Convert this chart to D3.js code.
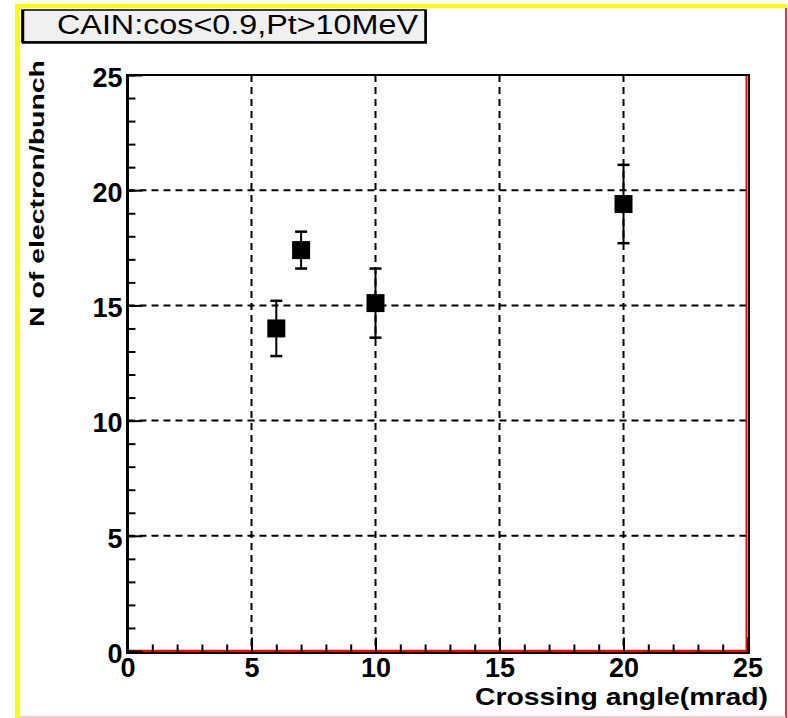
<!DOCTYPE html>
<html>
<head>
<meta charset="utf-8">
<script src="https://cdn.jsdelivr.net/npm/d3@7"></script>
<style>
  body { margin: 0; background: #fff; }
  svg { display: block; }
  .tick text { font-family: 'Liberation Sans', Arial, sans-serif; font-weight: bold; font-size: 27px; fill: #000; }
</style>
</head>
<body>
<svg id="chart" width="788" height="718"></svg>
<script>
// data
const angles = [6, 7, 10, 20]
const nElectrons = [14.0, 17.4, 15.1, 19.4]
const nErrors = [1.2, 0.8, 1.5, 1.7]
const majorTicks = [0, 5, 10, 15, 20, 25]
const minorTicks = d3.range(0, 26)
const titleText = 'CAIN:cos<0.9,Pt>10MeV'
const xTitle = 'Crossing angle(mrad)'
const yTitle = 'N of electron/bunch'

const svg = d3.select('#chart')
const font = "'Liberation Sans', Arial, sans-serif"

const padL = 127.5, padR = 747.5, padT = 75, padB = 651

const x = d3.scaleLinear().domain([0, 25]).range([padL, padR])
const y = d3.scaleLinear().domain([0, 25]).range([padB, padT])

// canvas border
svg.append('line').attr('x1', 15).attr('x2', 787).attr('y1', 6).attr('y2', 6)
  .attr('stroke', '#ffff00').attr('stroke-width', 4)
svg.append('line').attr('x1', 17.5).attr('x2', 17.5).attr('y1', 4).attr('y2', 718)
  .attr('stroke', '#ffff00').attr('stroke-width', 5)
svg.append('line').attr('x1', 786).attr('x2', 786).attr('y1', 8).attr('y2', 718)
  .attr('stroke', '#ff2a2a').attr('stroke-width', 2)
svg.append('line').attr('x1', 20).attr('x2', 786).attr('y1', 717).attr('y2', 717)
  .attr('stroke', '#ffb0b0').attr('stroke-width', 1.5)

// frame
svg.append('rect')
  .attr('x', padL - 0.5).attr('y', padT)
  .attr('width', 749 - padL + 0.5).attr('height', 653 - padT)
  .attr('fill', '#fff').attr('stroke', '#000').attr('stroke-width', 2)

// grid
const grid = svg.append('g')
grid.selectAll('.gx').data(majorTicks.slice(1, -1)).join('line')
  .attr('x1', d => x(d)).attr('x2', d => x(d))
  .attr('y1', padT).attr('y2', padB)
  .attr('stroke', '#000').attr('stroke-width', 2).attr('stroke-dasharray', '7,5')
grid.selectAll('.gy').data(majorTicks.slice(1, -1)).join('line')
  .attr('x1', padL).attr('x2', padR)
  .attr('y1', d => y(d)).attr('y2', d => y(d))
  .attr('stroke', '#000').attr('stroke-width', 2).attr('stroke-dasharray', '7,5')

// red frame lines (bottom / right)
svg.append('line').attr('x1', padL + 1).attr('x2', 748).attr('y1', padB).attr('y2', padB)
  .attr('stroke', '#ff0000').attr('stroke-width', 2.5)
svg.append('line').attr('x1', 746.5).attr('x2', 746.5).attr('y1', padT + 1).attr('y2', padB)
  .attr('stroke', '#ff0000').attr('stroke-width', 2)

// axes
const xMinor = d3.axisBottom(x).tickValues(minorTicks).tickSize(-8).tickSizeOuter(0).tickFormat('')
const xMajor = d3.axisBottom(x).tickValues(majorTicks).tickSize(-15).tickSizeOuter(0).tickPadding(5)
const yMinor = d3.axisLeft(y).tickValues(minorTicks).tickSize(-8).tickSizeOuter(0).tickFormat('')
const yMajor = d3.axisLeft(y).tickValues(majorTicks).tickSize(-15).tickSizeOuter(0).tickPadding(5)

const gx = svg.append('g').attr('transform', `translate(0,${padB + 1.5})`)
gx.append('g').call(xMinor)
gx.append('g').call(xMajor)
const gy = svg.append('g').attr('transform', `translate(${padL},0)`)
gy.append('g').call(yMinor)
gy.append('g').call(yMajor)

svg.selectAll('.domain').attr('stroke', '#000').attr('stroke-width', 2)
svg.selectAll('.tick line').attr('stroke', '#000').attr('stroke-width', 2)
gy.selectAll('.tick text').attr('dy', '0.42em')

// error bars
const pts = svg.append('g')
angles.forEach((a, i) => {
  const cx = x(a)
  const y0 = y(nElectrons[i] - nErrors[i])
  const y1 = y(nElectrons[i] + nErrors[i])
  pts.append('line').attr('x1', cx).attr('x2', cx).attr('y1', y0).attr('y2', y1)
    .attr('stroke', '#000').attr('stroke-width', 2)
  ;[y0, y1].forEach(yy => {
    pts.append('line').attr('x1', cx - 6).attr('x2', cx + 6).attr('y1', yy).attr('y2', yy)
      .attr('stroke', '#000').attr('stroke-width', 2.5)
  })
  pts.append('rect')
    .attr('x', cx - 9).attr('y', y(nElectrons[i]) - 9)
    .attr('width', 18).attr('height', 18)
    .attr('fill', '#000')
})

// axis titles
svg.append('text')
  .attr('x', 768).attr('y', 705)
  .attr('text-anchor', 'end')
  .attr('font-family', font).attr('font-weight', 'bold').attr('font-size', 24)
  .attr('textLength', 293).attr('lengthAdjust', 'spacingAndGlyphs')
  .text(xTitle)

svg.append('text')
  .attr('transform', 'translate(44,60) rotate(-90)')
  .attr('text-anchor', 'end')
  .attr('font-family', font).attr('font-weight', 'bold').attr('font-size', 21)
  .attr('textLength', 267).attr('lengthAdjust', 'spacingAndGlyphs')
  .text(yTitle)

// title box
const tb = svg.append('g')
tb.append('rect').attr('x', 22).attr('y', 10).attr('width', 404).attr('height', 32)
  .attr('fill', '#f0f0f0').attr('stroke', '#000').attr('stroke-width', 1.5)
tb.append('line').attr('x1', 22).attr('x2', 427).attr('y1', 42.5).attr('y2', 42.5)
  .attr('stroke', '#000').attr('stroke-width', 2.5)
tb.append('line').attr('x1', 425.5).attr('x2', 425.5).attr('y1', 10).attr('y2', 43)
  .attr('stroke', '#000').attr('stroke-width', 2.5)
tb.append('line').attr('x1', 23).attr('x2', 23).attr('y1', 10).attr('y2', 43)
  .attr('stroke', '#000').attr('stroke-width', 2.5)
tb.append('text')
  .attr('x', 57).attr('y', 34)
  .attr('font-family', font).attr('font-size', 27)
  .attr('textLength', 361).attr('lengthAdjust', 'spacingAndGlyphs')
  .text(titleText)
</script>
</body>
</html>
